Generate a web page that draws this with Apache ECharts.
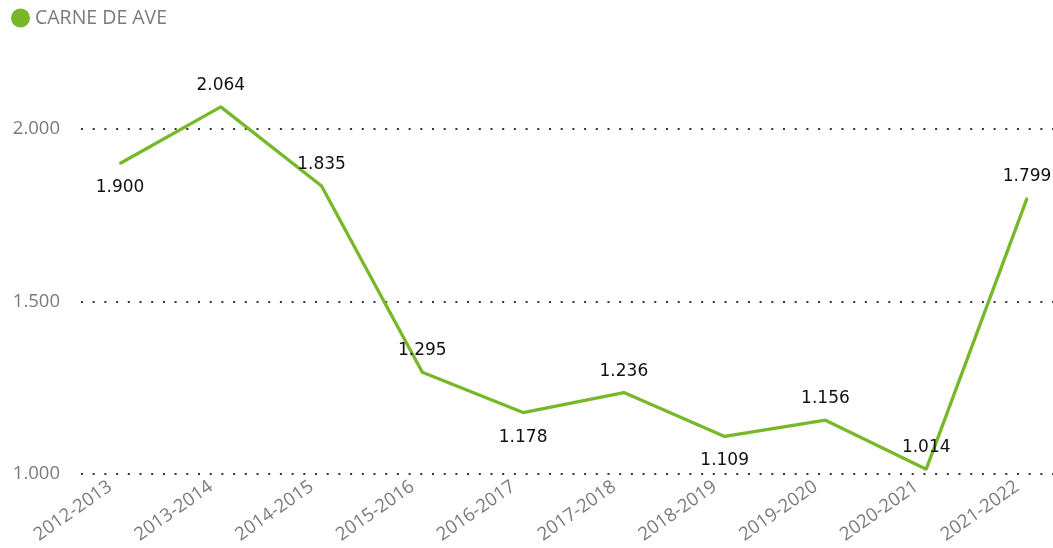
<!DOCTYPE html>
<html>
<head>
<meta charset="utf-8">
<script src="https://cdn.jsdelivr.net/npm/echarts@6/dist/echarts.min.js"></script>
<style>
  html, body { margin: 0; padding: 0; background: #fff; }
  #chart { width: 1053px; height: 548px; }
</style>
</head>
<body>
<div id="chart"></div>
<script>
// Poultry meat by season
const seasons = ['2012-2013', '2013-2014', '2014-2015', '2015-2016', '2016-2017',
                 '2017-2018', '2018-2019', '2019-2020', '2020-2021', '2021-2022'];
const carneDeAve = [1.900, 2.064, 1.835, 1.295, 1.178, 1.236, 1.109, 1.156, 1.014, 1.799];
const seriesName = 'CARNE DE AVE';
const yTicks = [1.0, 1.5, 2.0];

// points whose value label sits under the line
const labelsBelow = new Set([0, 4, 6]);

const green = '#76B82A';
const grey = '#7a7a7a';
const fmt = v => v.toFixed(3).replace(/\B(?=(\d{3})+(?!\d))/g, ',');

const chart = echarts.init(document.getElementById('chart'));
chart.setOption({
  animation: false,
  legend: {
    data: [{ name: seriesName, icon: 'circle', itemStyle: { color: green, opacity: 1 } }],
    left: 11, top: 8, padding: 0,
    itemWidth: 19, itemHeight: 19, itemGap: 10,
    textStyle: { color: grey, fontFamily: 'Open Sans', fontSize: 19.5, padding: [3, 0, 0, 0] }
  },
  grid: [
    // plot grid: ten equal category bands, wider than the page on the right
    { left: 69.6, width: 1007.8, top: 129, bottom: 74, outerBoundsMode: 'none' },
    // grid carrying the value gridlines and labels
    { left: 81, right: 0, top: 129, bottom: 74, outerBoundsMode: 'none' }
  ],
  xAxis: [
    {
      gridIndex: 0, type: 'category', data: seasons, boundaryGap: true,
      axisLine: { show: false }, axisTick: { show: false },
      axisLabel: { rotate: 35, margin: 4, padding: [0, 12, 0, 0], color: grey, fontFamily: 'Open Sans', fontSize: 18.5, interval: 0 }
    },
    { gridIndex: 1, type: 'value', show: false }
  ],
  yAxis: [
    { gridIndex: 0, type: 'value', min: yTicks[0], max: yTicks[yTicks.length - 1], show: false, splitLine: { show: false } },
    {
      gridIndex: 1, type: 'value', min: yTicks[0], max: yTicks[yTicks.length - 1], interval: yTicks[1] - yTicks[0],
      axisLine: { show: false }, axisTick: { show: false },
      axisLabel: { margin: 21, color: grey, fontFamily: 'Open Sans', fontSize: 18.5, formatter: v => fmt(v) },
      splitLine: { lineStyle: { color: '#333', width: 2, type: [2, 9.7] } }
    }
  ],
  series: [{
    name: seriesName, type: 'line', xAxisIndex: 0, yAxisIndex: 0,
    clip: false, symbol: 'circle', symbolSize: 2, showSymbol: true,
    itemStyle: { color: green },
    color: green,
    lineStyle: { color: green, width: 3.3 },
    data: carneDeAve.map((v, i) => ({
      value: v,
      label: labelsBelow.has(i) ? { position: 'bottom', distance: 15 } : { position: 'top', distance: 12 }
    })),
    label: {
      show: true, color: '#111', fontFamily: 'DejaVu Sans', fontSize: 17,
      formatter: p => fmt(p.value)
    },
    labelLayout: { hideOverlap: false }
  }]
});
</script>
</body>
</html>
